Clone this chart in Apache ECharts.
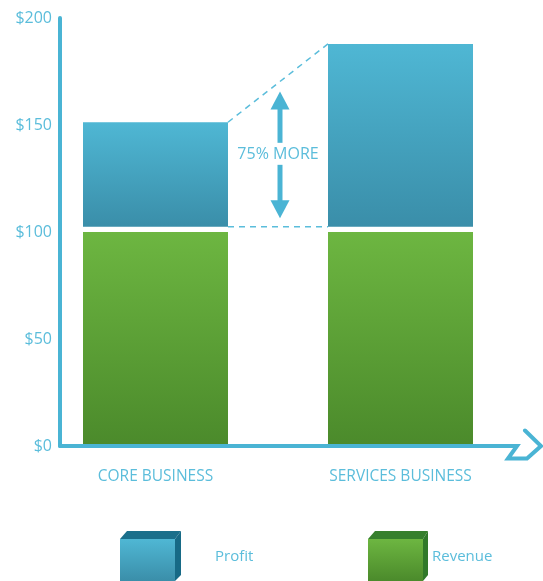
<!DOCTYPE html>
<html>
<head>
<meta charset="utf-8">
<script src="https://cdn.jsdelivr.net/npm/echarts@6/dist/echarts.min.js"></script>
<style>
  html, body { margin: 0; padding: 0; background: #ffffff; }
  #chart { width: 543px; height: 581px; }
</style>
</head>
<body>
<div id="chart"></div>
<script>
// Business comparison: revenue vs profit per business line
const categories = ['CORE BUSINESS', 'SERVICES BUSINESS'];
const revenue = [100, 100];
const divider = [2.5, 2.5];       // thin white separation between the stacked segments
const profit = [48.8, 85.4];
const yTicks = [0, 50, 100, 150, 200];
const legendNames = ['Profit', 'Revenue'];

const TEXT = '#5bbddb';
const AXIS = '#4ab4d4';
const BAR_W = 145;
const FONT = 'Open Sans';

function vgrad(top, bottom) {
  return new echarts.graphic.LinearGradient(0, 0, 0, 1, [
    { offset: 0, color: top },
    { offset: 1, color: bottom }
  ]);
}

function legendText(leftPad) {
  return {
    color: TEXT, fontSize: 15, fontFamily: FONT,
    rich: { t: { color: TEXT, fontSize: 15, fontFamily: FONT, padding: [0, 0, 7, leftPad] } }
  };
}

const chart = echarts.init(document.getElementById('chart'), null, { renderer: 'canvas' });

const option = {
  animation: false,
  backgroundColor: '#ffffff',
  grid: { left: 33, right: 20, top: 18, bottom: 135 },
  xAxis: {
    type: 'category',
    data: categories,
    axisLine: { show: false },
    axisTick: { show: false },
    axisLabel: { color: TEXT, fontSize: 15.5, fontFamily: FONT, margin: 23 }
  },
  yAxis: {
    type: 'value',
    min: yTicks[0],
    max: yTicks[yTicks.length - 1],
    interval: yTicks[1] - yTicks[0],
    offset: -27,
    axisLine: { show: true, lineStyle: { color: AXIS, width: 4, cap: 'round' } },
    axisTick: { show: false },
    splitLine: { show: false },
    axisLabel: { color: TEXT, fontSize: 16, fontFamily: FONT, margin: 8, formatter: v => '$' + v }
  },
  legend: [
    {
      data: [legendNames[0]], left: 120, top: 539, padding: 0, icon: 'rect',
      itemWidth: 55, itemHeight: 42, selectedMode: false,
      formatter: '{t|{name}}', textStyle: legendText(35)
    },
    {
      data: [legendNames[1]], left: 368, top: 539, padding: 0, icon: 'rect',
      itemWidth: 55, itemHeight: 42, selectedMode: false,
      formatter: '{t|{name}}', textStyle: legendText(4)
    }
  ],
  series: [
    {
      name: 'Revenue', type: 'bar', stack: 'total', data: revenue, barWidth: BAR_W,
      itemStyle: { color: vgrad('#6db641', '#4b8a2b') }
    },
    {
      name: 'divider', type: 'bar', stack: 'total', data: divider, barWidth: BAR_W,
      silent: true, itemStyle: { color: 'rgba(0,0,0,0)' }
    },
    {
      name: 'Profit', type: 'bar', stack: 'total', data: profit, barWidth: BAR_W,
      itemStyle: { color: vgrad('#4fb7d4', '#3a8ea9') }
    }
  ]
};
chart.setOption(option);

// ---- decorations positioned from the chart's own scales ----
const px = (ci, v) => chart.convertToPixel({ xAxisIndex: 0, yAxisIndex: 0 }, [ci, v]);

const base = revenue.map((r, i) => r + divider[i]);
const tops = base.map((b, i) => b + profit[i]);

const [cx0, yZero] = px(0, 0);
const [cx1] = px(1, 0);
const yAxisX = option.grid.left - option.yAxis.offset;
const xEnd = 543 - option.grid.right - 6;

const xL = cx0 + BAR_W / 2;
const xR = cx1 - BAR_W / 2;
const yBase = px(0, base[0])[1];
const yTopL = px(0, tops[0])[1];
const yTopR = px(1, tops[1])[1];

const xm = (xL + xR) / 2;
const xa = xm + 2;
const yDiag = yTopL + (yTopR - yTopL) * (xa - xL) / (xR - xL);
const tipTop = yDiag + 10;
const tipBot = yBase - 8.5;
const yText = (tipTop + tipBot) / 2;
const headH = 18, headHalf = 9.5, shaftHalf = 2.5;

const pct = Math.round((profit[1] / profit[0] - 1) * 100);

const dash = { stroke: TEXT, lineWidth: 1.5, lineDash: [6, 5], fill: null };

const graphics = [
  // horizontal axis with its arrow end
  {
    type: 'polyline', z: 10,
    shape: { points: [
      [yAxisX, yZero], [xEnd, yZero], [xEnd - 9, yZero + 12.5], [xEnd + 10, yZero + 12.5],
      [xEnd + 24, yZero], [xEnd + 8, yZero - 15.5]
    ] },
    style: { stroke: AXIS, lineWidth: 4, fill: null, lineCap: 'round', lineJoin: 'miter' }
  },
  // dashed guides
  { type: 'line', shape: { x1: xL, y1: yBase, x2: xR, y2: yBase }, style: dash },
  { type: 'line', shape: { x1: xL, y1: yTopL, x2: xR, y2: yTopR }, style: dash },
  // double arrow
  { type: 'polygon', shape: { points: [[xa, tipTop], [xa + headHalf, tipTop + headH], [xa - headHalf, tipTop + headH]] }, style: { fill: AXIS } },
  { type: 'rect', shape: { x: xa - shaftHalf, y: tipTop + headH - 1, width: shaftHalf * 2, height: (yText - 12) - (tipTop + headH - 1) }, style: { fill: AXIS } },
  { type: 'rect', shape: { x: xa - shaftHalf, y: yText + 10, width: shaftHalf * 2, height: (tipBot - headH + 1) - (yText + 10) }, style: { fill: AXIS } },
  { type: 'polygon', shape: { points: [[xa, tipBot], [xa + headHalf, tipBot - headH], [xa - headHalf, tipBot - headH]] }, style: { fill: AXIS } },
  {
    type: 'text', x: xm, y: yText,
    style: { text: pct + '% MORE', fill: TEXT, font: '16px "' + FONT + '"', align: 'center', verticalAlign: 'middle' }
  },
  // legend box shading (top and side faces)
  { type: 'polygon', shape: { points: [[120, 539], [127, 531], [181, 531], [175, 539]] }, style: { fill: '#1a6f8b' } },
  { type: 'polygon', shape: { points: [[175, 539], [181, 531], [181, 575], [175, 581]] }, style: { fill: '#176a86' } },
  { type: 'polygon', shape: { points: [[368, 539], [375, 531], [428, 531], [423, 539]] }, style: { fill: '#367f2d' } },
  { type: 'polygon', shape: { points: [[423, 539], [428, 531], [428, 575], [423, 581]] }, style: { fill: '#31792a' } }
];

chart.setOption({ graphic: graphics });
</script>
</body>
</html>
